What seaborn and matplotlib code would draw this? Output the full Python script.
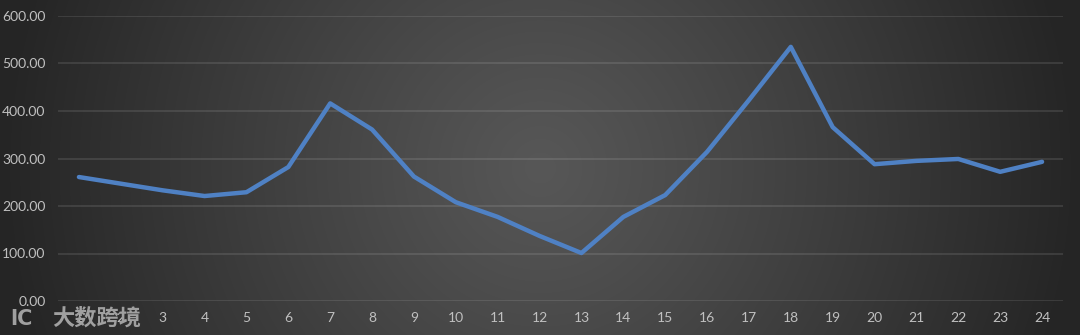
import numpy as np
import pandas as pd
import matplotlib
matplotlib.use("Agg")
import matplotlib.pyplot as plt
import seaborn as sns

hours = list(range(1, 25))
values = [261, 247, 233, 221, 229, 282, 416, 361, 262, 208, 177, 137, 101, 177, 223, 314, 423, 535, 366, 288, 295, 299, 272, 293]
y_ticks = [0, 100, 200, 300, 400, 500, 600]
y_labels = ["0.00", "100.00", "200.00", "300.00", "400.00", "500.00", "600.00"]

sns.set_style("dark")
plt.rcParams['font.family'] = ['Lato', 'Noto Sans CJK SC', 'DejaVu Sans']

W, H = 1080, 335
fig = plt.figure(figsize=(W / 100, H / 100), dpi=100)

# radial gradient background
bg = fig.add_axes([0, 0, 1, 1], zorder=-10)
yy, xx = np.mgrid[0:H, 0:W]
r = np.sqrt((xx - W * 0.5) ** 2 + (yy - H * 0.5) ** 2) / (W * 0.5)
r = np.clip(r, 0, 1)
c0, c1 = 87 / 255, 37 / 255
img = c0 + (c1 - c0) * r ** 1.1
bg.imshow(np.dstack([img, img, img]), aspect='auto', extent=[0, 1, 0, 1], origin='upper')
bg.set_axis_off()

ax = fig.add_axes([58 / W, 1 - 301 / H, (1063 - 58) / W, (301 - 16) / H])
ax.set_facecolor((0, 0, 0, 0))
df = pd.DataFrame({"hour": hours, "value": values})
sns.lineplot(data=df, x="hour", y="value", ax=ax, color="#4f81c4", linewidth=3.2, zorder=3)

ax.set_xlim(0.5, 24.5)
ax.set_ylim(0, 600)
ax.set_xticks(hours)
ax.set_xticklabels([str(h) for h in hours])
ax.set_yticks(y_ticks)
ax.set_yticklabels(y_labels)
ax.set_xlabel("")
ax.set_ylabel("")
ax.grid(False)
ax.yaxis.grid(True, color="white", alpha=0.12, linewidth=1.2)
ax.xaxis.grid(False)
for s in ax.spines.values():
    s.set_visible(False)
ax.tick_params(axis='both', length=0, colors="#c0c0c0", labelsize=10)
ax.tick_params(axis='y', pad=9)
ax.tick_params(axis='x', pad=8)

# watermark
wm = "#a0a0a0"
fig.text(10 / W, 1 - 319 / H, "lC", color=wm, fontsize=15, va='center', ha='left',
         family=['DejaVu Sans'], fontweight='bold')
fig.text(52 / W, 1 - 318 / H, "大数跨境", color=wm, fontsize=16, va='center', ha='left',
         family=['Noto Sans CJK SC', 'DejaVu Sans'], fontweight='bold')

fig.savefig("out.png", dpi=100)
